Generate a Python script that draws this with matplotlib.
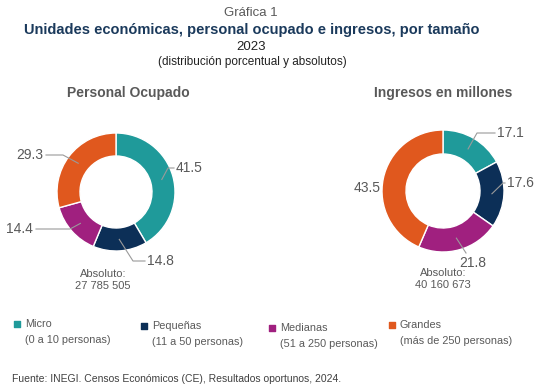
import numpy as np
import matplotlib
matplotlib.use('Agg')
import matplotlib.pyplot as plt

plt.rcParams['font.family'] = ['Liberation Sans', 'DejaVu Sans']

# Datos
CATEGORIAS = ['Micro', 'Pequeñas', 'Medianas', 'Grandes']
RANGOS = ['(0 a 10 personas)', '(11 a 50 personas)', '(51 a 250 personas)', '(más de 250 personas)']
PERSONAL = [41.5, 14.8, 14.4, 29.3]
INGRESOS = [17.1, 17.6, 21.8, 43.5]
ABS_PERSONAL = '27 785 505'
ABS_INGRESOS = '40 160 673'

COLORES = ['#1f9a9a', '#0c2f57', '#a0207f', '#e0581e']
GRIS = '#595959'
W, H = 560, 392


def py(y):
  # pixel desde arriba -> coordenada del eje
  return H - y


fig = plt.figure(figsize=(W / 100, H / 100), dpi=100)
ax = fig.add_axes([0, 0, 1, 1])


def dona(valores, cx, cy, r, ancho, etiquetas):
  wedges, _ = ax.pie(valores, colors=COLORES, startangle=90, counterclock=False,
                     center=(cx, py(cy)), radius=r,
                     wedgeprops=dict(width=ancho, edgecolor='white', linewidth=1.0))
  rm = r - ancho / 2
  for i, (w, (tx, ty, codo, ha)) in enumerate(zip(wedges, etiquetas)):
    ang = np.deg2rad((w.theta1 + w.theta2) / 2)
    x0, y0 = cx + rm * np.cos(ang), py(cy) + rm * np.sin(ang)
    if codo is not None:
      ax.plot([x0, codo[0], codo[2]], [y0, py(codo[1]), py(codo[1])], color='#9a9a9a', lw=0.8)
    ax.text(tx, py(ty), f'{valores[i]:.1f}', ha=ha, va='center', fontsize=10, color=GRIS)


# etiquetas: (x texto, y texto, (x codo, y codo, x fin) o None, alineacion)
dona(PERSONAL, 116, 192, 59, 23, [
  (176, 168, (168, 168, 174), 'left'),
  (147, 261, (133, 261, 145), 'left'),
  (33, 229, (70, 229, 36), 'right'),
  (43, 155, (63, 155, 46), 'right'),
])
dona(INGRESOS, 443, 191, 61, 24, [
  (497, 133, (477, 133, 495), 'left'),
  (507, 183, (503, 183, 505), 'left'),
  (473, 263, (466, 253, 466), 'center'),
  (381, 188, None, 'right'),
])

ax.set_xlim(0, W)
ax.set_ylim(0, H)
ax.set_aspect('auto')
ax.axis('off')

# Titulos
ax.text(251, py(13), 'Gráfica 1', ha='center', va='center', fontsize=9.5, color=GRIS)
ax.text(252, py(30), 'Unidades económicas, personal ocupado e ingresos, por tamaño',
        ha='center', va='center', fontsize=10.5, fontweight='bold', color='#1b3a5c')
ax.text(251, py(47), '2023', ha='center', va='center', fontsize=9.5, color='#222222')
ax.text(252, py(62), '(distribución porcentual y absolutos)', ha='center', va='center',
        fontsize=8.5, color='#222222')

ax.text(128, py(93), 'Personal Ocupado', ha='center', va='center', fontsize=10,
        fontweight='bold', color=GRIS)
ax.text(443, py(93), 'Ingresos en millones', ha='center', va='center', fontsize=10,
        fontweight='bold', color=GRIS)

ax.text(103, py(280), 'Absoluto:\n' + ABS_PERSONAL, ha='center', va='center', fontsize=8,
        color=GRIS, linespacing=1.3)
ax.text(443, py(279), 'Absoluto:\n' + ABS_INGRESOS, ha='center', va='center', fontsize=8,
        color=GRIS, linespacing=1.3)

# Leyenda
pos_ley = [(17, 324), (144, 326), (272, 328), (392, 325)]
for (lx, ly), cat, rango, col in zip(pos_ley, CATEGORIAS, RANGOS, COLORES):
  ax.scatter([lx], [py(ly)], marker='s', s=22, color=col)
  ax.text(lx + 8, py(ly), cat, ha='left', va='center', fontsize=7.8, color=GRIS)
  ax.text(lx + 8, py(ly + 16), rango, ha='left', va='center', fontsize=7.8, color=GRIS)

ax.text(12, py(379), 'Fuente: INEGI. Censos Económicos (CE), Resultados oportunos, 2024.',
        ha='left', va='center', fontsize=7.5, color='#404040')

fig.savefig('out.png', dpi=100)
